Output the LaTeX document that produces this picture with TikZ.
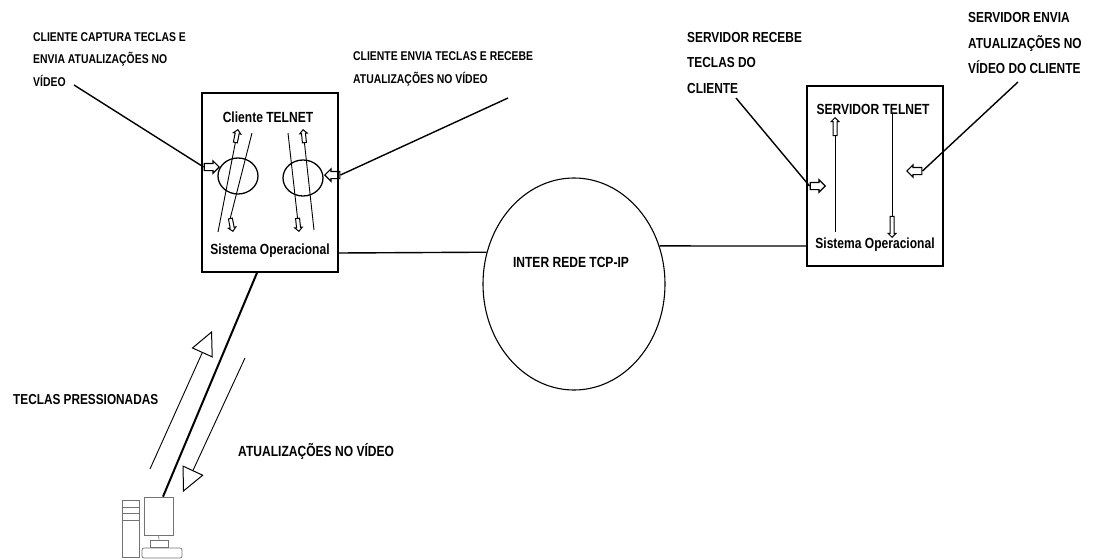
\documentclass[tikz,border=0pt]{standalone}
\usepackage{fontspec}
\setmainfont{Liberation Sans}[FakeStretch=0.82]
\usetikzlibrary{shapes.geometric,shapes.arrows,arrows.meta}
\tikzset{
  boxnode/.style={draw,line width=1.6pt,rectangle,inner sep=0pt},
  blob/.style={draw,line width=1.3pt,ellipse,inner sep=0pt},
  lbl/.style={font=\fontsize{12.7}{22.3}\selectfont\bfseries,align=left,anchor=west,inner sep=0pt},
  midlbl/.style={font=\fontsize{14.5}{25.5}\selectfont\bfseries,align=left,anchor=west,inner sep=0pt},
  biglbl/.style={font=\fontsize{14.7}{26}\selectfont\bfseries,align=left,anchor=west,inner sep=0pt},
  wire/.style={line width=1.4pt},
  thinwire/.style={line width=0.9pt},
  blockhead/.style={draw,line width=1.2pt,single arrow,inner sep=3pt,minimum height=15pt,single arrow head extend=2.5pt,single arrow head indent=0pt},
  smallhead/.style={draw,line width=1pt,single arrow,inner sep=1.5pt,minimum height=13pt,single arrow head extend=1.8pt,single arrow head indent=0pt},
  bighead/.style={-{Triangle[open,length=24pt,width=23pt,line width=1pt]},line width=0.9pt},
  pc/.style={draw=black!55,line width=0.7pt,inner sep=0pt,rectangle}
}
\begin{document}
\begin{tikzpicture}[x=1pt,y=-1pt]
  \useasboundingbox (0,0) rectangle (1096,560);
  % boxes
  \node[boxnode,minimum width=136pt,minimum height=179pt] (clientbox) at (270,182.5) {};
  \node[boxnode,minimum width=136pt,minimum height=180pt] (serverbox) at (875,176) {};
  \node[blob,line width=1.1pt,minimum width=182pt,minimum height=212pt] (rede) at (574,284) {};
  \node[biglbl,anchor=center] (redetxt) at (571,262) {INTER REDE TCP-IP};
  \node[biglbl,anchor=center] (clienttxt) at (268,117) {Cliente TELNET};
  \node[biglbl,anchor=center] (sotxt) at (270,251) {Sistema Operacional};
  \node[biglbl,anchor=center] (servertxt) at (873,109) {SERVIDOR TELNET};
  \node[biglbl,anchor=center] (sotxtb) at (875,245) {Sistema Operacional};
  % links between boxes and the cloud
  \coordinate (linkc) at (338,253);
  \coordinate (links) at (807,246);
  \draw[wire] (linkc) -- (rede.160);
  \draw[wire] (rede.24) -- (links);
  % client ellipses
  \node[blob,minimum width=40pt,minimum height=36pt] (blobl) at (238,176) {};
  \node[blob,minimum width=40pt,minimum height=36pt] (blobr) at (303,178) {};
  \coordinate (la) at (218,232); \coordinate (lb) at (252,133);
  \coordinate (lc) at (288,133); \coordinate (ld) at (314,230);
  \node[smallhead,rotate=79,anchor=tip] (hla) at (238,129) {};
  \node[smallhead,rotate=-79,anchor=tip] (hlb) at (233,232) {};
  \node[smallhead,rotate=-84,anchor=tip] (hlc) at (299,232) {};
  \node[smallhead,rotate=96,anchor=tip] (hld) at (303,129) {};
  \draw[thinwire] (la) -- (hla.tail);
  \draw[thinwire] (lb) -- (hlb.tail);
  \draw[thinwire] (lc) -- (hlc.tail);
  \draw[thinwire] (ld) -- (hld.tail);
  % server arrows
  \coordinate (sa) at (835,232); \coordinate (sb) at (892,113);
  \node[smallhead,minimum height=18pt,rotate=90,anchor=tip] (hsa) at (835,117) {};
  \node[smallhead,minimum height=21pt,rotate=-90,anchor=tip] (hsb) at (892,238) {};
  \draw[thinwire] (sa) -- (hsa.tail);
  \draw[thinwire] (sb) -- (hsb.tail);
  % pointers with notes
  \node[blockhead,anchor=tip] (pa) at (220,167) {};
  \node[blockhead,rotate=180,anchor=tip] (pb) at (324,175) {};
  \node[blockhead,anchor=tip] (pc) at (826,186) {};
  \node[blockhead,rotate=180,anchor=tip] (pd) at (906,171) {};
  \coordinate (na) at (74,85); \coordinate (nb) at (508,98);
  \coordinate (nc) at (736,98); \coordinate (nd) at (1018,82);
  \draw[wire] (na) -- (pa.tail);
  \draw[wire] (nb) -- (pb.tail);
  \draw[wire] (nc) -- (pc.tail);
  \draw[wire] (nd) -- (pd.tail);
  \node[lbl] (notea) at (33,59.5) {CLIENTE CAPTURA TECLAS E\\ENVIA ATUALIZAÇÕES NO\\VÍDEO};
  \node[lbl] (noteb) at (353,69) {CLIENTE ENVIA TECLAS E RECEBE\\ATUALIZAÇÕES NO VÍDEO};
  \node[midlbl] (notec) at (687,63) {SERVIDOR RECEBE\\TECLAS DO\\CLIENTE};
  \node[midlbl] (noted) at (968,43.5) {SERVIDOR ENVIA\\ATUALIZAÇÕES NO\\VÍDEO DO CLIENTE};
  % computer
  \node[pc,minimum width=17pt,minimum height=57pt] (tower) at (130.5,528.5) {};
  \node[pc,minimum width=29pt,minimum height=38pt] (monitor) at (158.5,516) {};
  \node[pc,minimum width=18pt,minimum height=7pt] (stand) at (159,543.5) {};
  \node[pc,rounded corners=2pt,minimum width=40pt,minimum height=10pt] (keyboard) at (162,553) {};
  \draw[pc] (tower.west |- 0,507) -- (tower.east |- 0,507);
  \draw[pc] (tower.west |- 0,513) -- (tower.east |- 0,513);
  \draw[pc] (tower.west |- 0,520) -- (tower.east |- 0,520);
  \draw[pc] (monitor.south) -- (stand.north);
  % keys and video updates
  \coordinate (upa) at (150,469); \coordinate (upb) at (212,331);
  \coordinate (dna) at (245,358); \coordinate (dnb) at (183,492);
  \draw[bighead] (upa) -- (upb);
  \draw[bighead] (dna) -- (dnb);
  \draw[line width=2pt] (clientbox.south -| 257,0) -- (monitor.north -| 163,0);
  \node[biglbl,font=\fontsize{14.4}{26}\selectfont\bfseries] (teclas) at (13,400) {TECLAS PRESSIONADAS};
  \node[biglbl] (video) at (238,451) {ATUALIZAÇÕES NO VÍDEO};
\end{tikzpicture}
\end{document}
